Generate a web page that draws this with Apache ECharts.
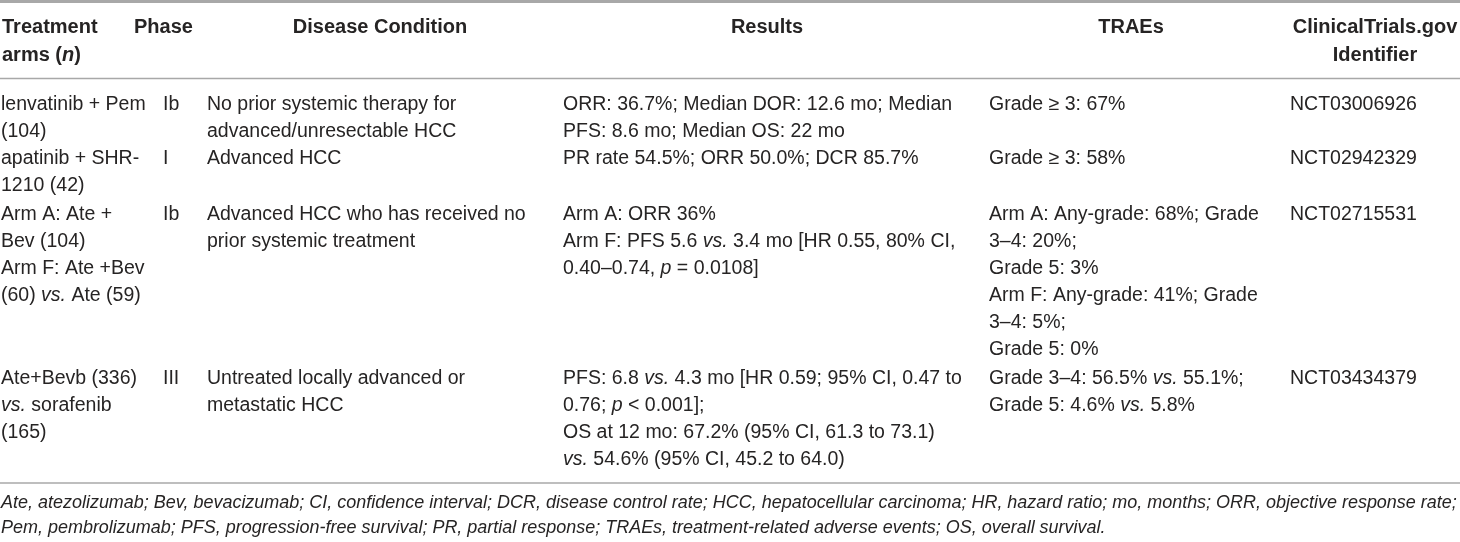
<!DOCTYPE html>
<html>
<head>
<meta charset="utf-8">
<script src="https://cdn.jsdelivr.net/npm/echarts@6/dist/echarts.min.js"></script>
<style>
html,body{margin:0;padding:0;background:#ffffff;}
#chart{width:1460px;height:542px;}
</style>
</head>
<body>
<div id="chart"></div>
<script>
// ---------- table content ----------
const headerLabels = [
  ["Treatment", "arms ({bi|n})"],
  ["Phase"],
  ["Disease Condition"],
  ["Results"],
  ["TRAEs"],
  ["ClinicalTrials.gov", "Identifier"]
];

const treatmentArms = [
  ["lenvatinib + Pem", "(104)"],
  ["apatinib + SHR-", "1210 (42)"],
  ["Arm A: Ate +", "Bev (104)", "Arm F: Ate +Bev", "(60) {i|vs.} Ate (59)"],
  ["Ate+Bevb (336)", "{i|vs.} sorafenib", "(165)"]
];

const phases = ["Ib", "I", "Ib", "III"];

const diseaseConditions = [
  ["No prior systemic therapy for", "advanced/unresectable HCC"],
  ["Advanced HCC"],
  ["Advanced HCC who has received no", "prior systemic treatment"],
  ["Untreated locally advanced or", "metastatic HCC"]
];

const results = [
  ["ORR: 36.7%; Median DOR: 12.6 mo; Median", "PFS: 8.6 mo; Median OS: 22 mo"],
  ["PR rate 54.5%; ORR 50.0%; DCR 85.7%"],
  ["Arm A: ORR 36%", "Arm F: PFS 5.6 {i|vs.} 3.4 mo [HR 0.55, 80% CI,", "0.40–0.74, {i|p} = 0.0108]"],
  ["PFS: 6.8 {i|vs.} 4.3 mo [HR 0.59; 95% CI, 0.47 to", "0.76; {i|p} < 0.001];", "OS at 12 mo: 67.2% (95% CI, 61.3 to 73.1)", "{i|vs.} 54.6% (95% CI, 45.2 to 64.0)"]
];

const traes = [
  ["Grade ≥ 3: 67%"],
  ["Grade ≥ 3: 58%"],
  ["Arm A: Any-grade: 68%; Grade", "3–4: 20%;", "Grade 5: 3%", "Arm F: Any-grade: 41%; Grade", "3–4: 5%;", "Grade 5: 0%"],
  ["Grade 3–4: 56.5% {i|vs.} 55.1%;", "Grade 5: 4.6% {i|vs.} 5.8%"]
];

const identifiers = ["NCT03006926", "NCT02942329", "NCT02715531", "NCT03434379"];

const footnoteLines = [
  "Ate, atezolizumab; Bev, bevacizumab; CI, confidence interval; DCR, disease control rate; HCC, hepatocellular carcinoma; HR, hazard ratio; mo, months; ORR, objective response rate;",
  "Pem, pembrolizumab; PFS, progression-free survival; PR, partial response; TRAEs, treatment-related adverse events; OS, overall survival."
];

// ---------- layout ----------
const W = 1460;
const FONT = '"Liberation Sans", Arial, Helvetica, sans-serif';
const TEXT_COLOR = '#262424';
const RULE_COLOR = '#a8a8a8';
const BODY_SIZE = 19.5;
const HEAD_SIZE = 20;
const LINE_H = 27;

const headerLayout = [
  {x: 2, align: 'left'},
  {x: 134, align: 'left'},
  {x: 380, align: 'center'},
  {x: 767, align: 'center'},
  {x: 1131, align: 'center'},
  {x: 1375, align: 'center'}
];
const headerY = [27, 55];
const colLayout = [
  {x: 1, align: 'left'},
  {x: 163, align: 'left'},
  {x: 207, align: 'left'},
  {x: 563, align: 'left'},
  {x: 989, align: 'left'},
  {x: 1290, align: 'left'}
];
const rowTopY = [105, 159, 215, 379];
const rules = [{y: 1.5, w: 3}, {y: 78.5, w: 1.5}, {y: 483, w: 1.5}];
const footY = [503, 528];

function richFor(size, weight) {
  return {
    i: {fontStyle: 'italic', fontSize: size, fontFamily: FONT, fontWeight: weight, fill: TEXT_COLOR},
    bi: {fontStyle: 'italic', fontSize: size, fontFamily: FONT, fontWeight: 'bold', fill: TEXT_COLOR}
  };
}

function textEl(x, y, str, o) {
  o = o || {};
  const size = o.size || BODY_SIZE;
  const weight = o.weight || 'normal';
  const align = o.align || 'left';
  return {
    type: 'text',
    x: x, y: y,
    silent: true,
    style: {
      text: str,
      fontSize: size,
      fontFamily: FONT,
      fontWeight: weight,
      fontStyle: o.italic ? 'italic' : 'normal',
      fill: o.color || TEXT_COLOR,
      align: align, textAlign: align,
      verticalAlign: 'middle', textVerticalAlign: 'middle',
      rich: richFor(size, weight)
    }
  };
}

const elements = [];

// rules
rules.forEach(r => {
  elements.push({
    type: 'line', silent: true,
    shape: {x1: 0, y1: r.y, x2: W, y2: r.y},
    style: {stroke: RULE_COLOR, lineWidth: r.w}
  });
});

// header
headerLabels.forEach((lines, c) => {
  lines.forEach((s, k) => {
    elements.push(textEl(headerLayout[c].x, headerY[k], s,
      {size: HEAD_SIZE, weight: 'bold', align: headerLayout[c].align}));
  });
});

// body columns
const columns = [
  treatmentArms,
  phases.map(p => [p]),
  diseaseConditions,
  results,
  traes,
  identifiers.map(s => [s])
];
columns.forEach((col, c) => {
  col.forEach((cellLines, r) => {
    cellLines.forEach((s, k) => {
      elements.push(textEl(colLayout[c].x, rowTopY[r] + k * LINE_H, s, {align: colLayout[c].align}));
    });
  });
});

// footnote: size fitted so that the first line spans the full width
let footSize = 16.5;
try {
  const ctx = document.createElement('canvas').getContext('2d');
  ctx.font = 'italic 100px ' + FONT;
  const w = ctx.measureText(footnoteLines[0]).width;
  if (w > 0) footSize = Math.min(18, Math.max(14, 100 * 1456 / w));
} catch (e) {}
footnoteLines.forEach((s, k) => {
  elements.push(textEl(1, footY[k], s, {size: footSize, italic: true}));
});

const chart = echarts.init(document.getElementById('chart'), null, {renderer: 'canvas'});
chart.setOption({
  backgroundColor: '#ffffff',
  animation: false,
  graphic: {elements: elements}
});
</script>
</body>
</html>
